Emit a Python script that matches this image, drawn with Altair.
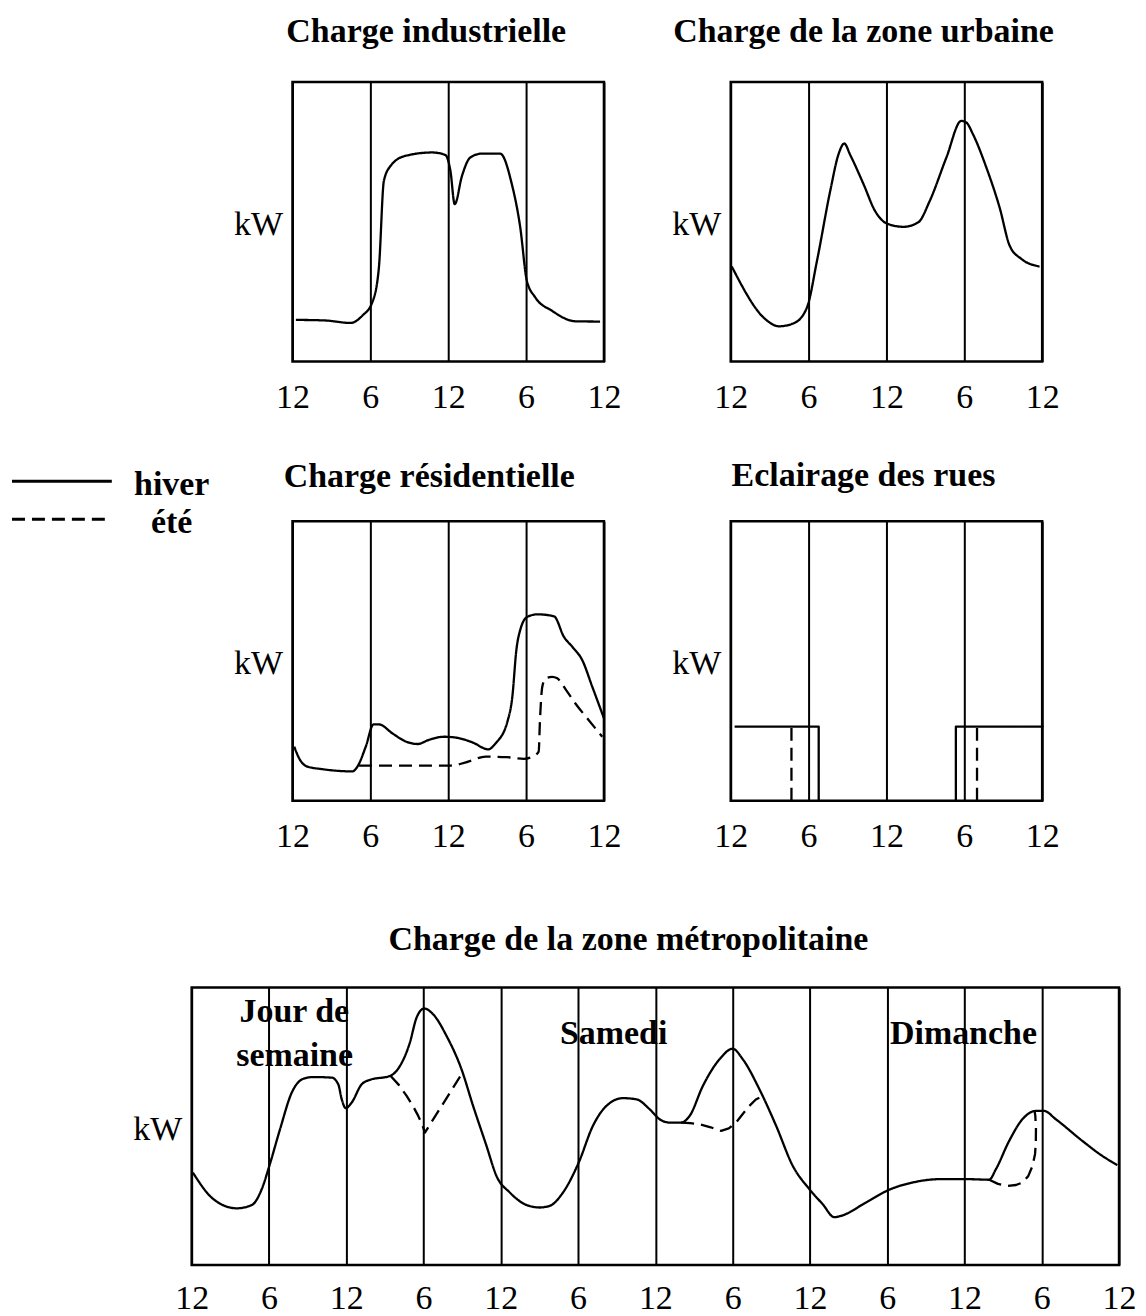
import altair as alt
import pandas as pd

FONT = "Liberation Serif"
SERIES = ["hiver", "été"]
DASHES = [[1, 0], [13, 7]]
DAY_TICKS = [0, 6, 12, 18, 24]
WEEK_TICKS = list(range(0, 73, 6))

# Charge industrielle (hiver)
ind_h = [0.26, 2.5, 4.48, 5.38, 6.15, 6.66, 7.04, 7.56, 8.71, 10.76, 11.78, 12.17, 12.5, 13.06, 13.7,
         14.6, 16.0, 16.9, 17.55, 18.06, 18.7, 19.98, 21.8, 23.7]
ind_v = [14.9, 14.7, 13.8, 16.4, 21.2, 33.7, 64.6, 70.0, 73.6, 74.8, 73.9, 68.2, 56.3, 66.4, 73.0,
         74.4, 74.4, 63.5, 48.0, 28.9, 23.0, 18.2, 14.4, 14.3]

# Charge de la zone urbaine (hiver)
urb_h = [0.08, 2.81, 3.71, 4.86, 5.88, 6.65, 7.67, 8.31, 8.75, 9.21, 10.23, 11.12, 12.02, 13.3,
         14.45, 15.34, 16.62, 17.77, 18.16, 18.67, 19.7, 20.72, 21.5, 22.4, 23.8]
urb_v = [34.0, 14.6, 12.6, 13.7, 19.4, 36.1, 61.1, 74.2, 78.0, 73.9, 63.5, 53.9, 49.4, 48.2,
         49.8, 57.5, 73.0, 86.1, 85.5, 81.3, 69.4, 55.1, 41.4, 36.7, 34.0]

# Charge résidentielle
res_w_h = [0.13, 0.51, 1.16, 2.31, 4.62, 5.0, 5.65, 6.24, 6.67, 7.7, 8.73, 9.63, 10.52, 11.68, 12.58,
           13.86, 15.09, 15.66, 16.56, 16.94, 17.25, 17.58, 18.1, 18.87, 20.15, 20.92, 21.56, 22.33,
           23.1, 24.0]
res_w_v = [19.4, 15.2, 12.2, 11.3, 10.5, 12.2, 19.4, 27.3, 27.3, 24.1, 21.2, 20.3, 21.8, 22.9, 22.6,
           20.9, 18.4, 20.6, 28.3, 37.2, 53.9, 61.6, 65.8, 66.7, 66.0, 58.6, 55.1, 50.3,
           40.8, 29.5]
res_s_h = [5.13, 6.24, 9.0, 12.19, 13.35, 14.89, 16.5, 17.84, 18.5, 18.97, 19.07, 19.25, 19.5, 20.0,
           20.4, 21.1, 21.8, 22.8, 23.87]
res_s_v = [12.6, 12.6, 12.6, 12.6, 13.7, 15.8, 15.6, 15.0, 15.8, 17.6, 28.9, 40.8, 43.8, 44.3,
           43.8, 39.5, 34.8, 29.0, 22.9]

# Eclairage des rues
light_h = [0.3, 6.78, 6.78, 17.35, 17.35, 24.1, 4.68, 4.68, 18.98, 18.98]
light_v = [26.5, 26.5, 0, 0, 26.5, 26.5, 0, 26.5, 0, 26.5]
light_serie = ["hiver"] * 6 + ["été"] * 4
light_seg = [0, 0, 0, 1, 1, 1, 2, 2, 3, 3]

# Charge de la zone métropolitaine (3 jours)
met_w_h = [0.09, 1.69, 3.5, 4.67, 5.44, 6.03, 6.86, 7.77, 8.67, 9.45, 10.87, 11.38, 11.65, 11.96,
           12.42, 13.2, 13.84, 15.39, 16.17, 16.94, 17.46, 18.05, 18.75, 19.79, 20.95, 21.85, 22.89,
           23.66, 24.7, 26.0, 27.0, 27.8, 28.83, 30.05, 31.15, 32.2, 33.48, 34.52, 35.56, 36.33,
           37.1, 38.0, 38.66, 39.69, 40.98, 42.0, 42.79, 44.08, 45.38, 46.67, 47.96, 48.99, 49.9,
           50.42, 52.36, 54.16, 55.97, 58.04, 60.37, 61.92, 62.44, 63.47, 64.5, 65.54, 66.18,
           67.09, 69.15, 70.7, 71.87]
met_w_v = [33.3, 23.7, 20.4, 21.6, 27.3, 35.7, 48.9, 62.1, 67.1, 67.7, 67.5, 65.1, 59.7, 56.5,
           58.5, 65.1, 66.7, 68.1, 71.7, 80.1, 89.1, 92.4, 90.3, 82.5, 70.5, 57.3, 42.9,
           32.1, 26.1, 21.6, 20.7, 21.3, 26.1, 36.9, 50.1, 57.3, 60.1, 59.7, 56.1, 52.5,
           51.3, 51.3, 53.7, 64.5, 74.1, 77.9, 74.1, 63.3, 50.1, 35.7, 27.3, 21.9, 17.2,
           17.7, 22.5, 27.1, 29.7, 30.9, 30.9, 30.7, 34.5, 44.7, 52.5, 55.5, 55.5,
           52.5, 44.7, 39.3, 36.0]
met_s_h = [15.45, 16.1, 16.69, 17.2, 17.59, 17.9, 18.11, 21.03,
           38.0, 38.7, 39.44, 40.3, 41.1, 41.7, 42.26, 42.8, 43.3, 43.8, 44.33,
           61.92, 62.6, 63.34, 64.0, 64.5, 64.95, 65.28, 65.48, 65.54, 65.55, 65.5, 65.45]
met_s_v = [68.1, 64.8, 60.9, 57.1, 53.7, 50.6, 47.7, 69.3,
           51.3, 51.1, 50.7, 49.6, 48.3, 49.2, 51.3, 54.5, 57.3, 59.6, 60.9,
           30.7, 29.2, 28.5, 28.8, 29.7, 32.0, 35.7, 40.0, 44.1, 49.0, 53.7, 55.3]
met_s_seg = [0] * 8 + [1] * 11 + [2] * 12

ann_text = ["Jour de", "semaine", "Samedi", "Dimanche"]
ann_h = [7.97, 7.99, 32.76, 59.92]
ann_v = [87.4, 71.7, 79.5, 79.5]

TITLES = ["Charge industrielle", "Charge de la zone urbaine", "Charge résidentielle",
          "Eclairage des rues", "Charge de la zone métropolitaine"]


def frame(hs, vs, serie, seg=None):
    n = len(hs)
    return pd.DataFrame({
        "h": hs, "v": vs,
        "série": serie if isinstance(serie, list) else [serie] * n,
        "seg": seg if seg is not None else [0] * n,
        "pt": list(range(n)),
    })


def x_enc(xmax, ticks, pad=36):
    return alt.X("h:Q", scale=alt.Scale(domain=[0, xmax], nice=False, zero=False),
                 axis=alt.Axis(values=ticks, labelExpr="datum.value % 12 == 0 ? '12' : '6'",
                               labelFont=FONT, labelFontSize=34, labelColor="black",
                               labelBaseline="middle", labelAlign="center", labelPadding=pad,
                               labelFlush=False, labelOverlap=False, ticks=False, tickSize=0,
                               domain=False, grid=True, gridColor="black", gridWidth=2,
                               gridOpacity=1, title=None))


def y_enc(height):
    return alt.Y("v:Q", scale=alt.Scale(domain=[0, 100], nice=False, zero=False),
                 axis=alt.Axis(domain=False, ticks=False, labels=False, grid=False,
                               title="kW", titleAngle=0, titleFont=FONT, titleFontSize=34,
                               titleFontWeight="normal", titleColor="black", titleAlign="right",
                               titleBaseline="middle", titleX=-10, titleY=height / 2 + 3))


dash = alt.StrokeDash("série:N", scale=alt.Scale(domain=SERIES, range=DASHES), legend=None)


def curve(df, xmax, ticks, height, interp, pad=36):
    return alt.Chart(df).mark_line(color="black", strokeWidth=2.3, interpolate=interp,
                                   strokeJoin="round").encode(
        x=x_enc(xmax, ticks, pad), y=y_enc(height), strokeDash=dash,
        detail="seg:N", order="pt:Q")


def panel(layers, title, width, height, offset, dx):
    return alt.layer(*layers).properties(
        width=width, height=height,
        title=alt.TitleParams(title, font=FONT, fontSize=34, fontWeight="bold", color="black",
                              anchor="middle", baseline="alphabetic", offset=offset, dx=dx),
        view=alt.ViewBackground(stroke="black", strokeWidth=2.5))


def extent_rule(top, bottom):
    # invisible rule fixing the layout extent of a row
    return alt.Chart(pd.DataFrame({"a": [0]})).mark_rule(strokeOpacity=0, strokeWidth=0).encode(
        x=alt.value(-2), x2=alt.value(1), y=alt.value(top), y2=alt.value(bottom))


def spacer(w, h, top, bottom):
    return extent_rule(top, bottom).properties(
        width=w, height=h, view=alt.ViewBackground(strokeOpacity=0))


W, H, HB, WB = 312, 280, 278, 929
TOP = -73

p1 = panel([curve(frame(ind_h, ind_v, "hiver"), 24, DAY_TICKS, H, "monotone")],
           TITLES[0], W, H, 6, -22)
p2 = panel([curve(frame(urb_h, urb_v, "hiver"), 24, DAY_TICKS, H, "monotone")],
           TITLES[1], W, H, 6, -23)
p3 = panel([curve(frame(res_w_h, res_w_v, "hiver"), 24, DAY_TICKS, H, "monotone"),
            curve(frame(res_s_h, res_s_v, "été"), 24, DAY_TICKS, H, "monotone")],
           TITLES[2], W, H, 0, -19)
p4 = panel([curve(frame(light_h, light_v, light_serie, light_seg), 24, DAY_TICKS, H, "linear")],
           TITLES[3], W, H, 1.5, -23)

ann_df = pd.DataFrame({"t": ann_text, "h": ann_h, "v": ann_v})
ann = alt.Chart(ann_df).mark_text(font=FONT, fontSize=34, fontWeight="bold", color="black",
                                  align="center", baseline="alphabetic").encode(
    x=x_enc(72, WEEK_TICKS, 34), y=y_enc(HB), text="t:N")
p5 = panel([curve(frame(met_w_h, met_w_v, "hiver"), 72, WEEK_TICKS, HB, "monotone", 34),
            curve(frame(met_s_h, met_s_v, "été", met_s_seg), 72, WEEK_TICKS, HB, "linear", 34),
            ann],
           TITLES[4], WB, HB, 3.5, -27)

leg_df = pd.DataFrame({"série": SERIES})
leg_y = alt.Y("série:N", scale=alt.Scale(type="point", domain=SERIES, range=[-40, -2], padding=0),
              axis=None)
leg_line = alt.Chart(leg_df).mark_rule(color="black", strokeWidth=3).encode(
    x=alt.value(0), x2=alt.value(100), y=leg_y, strokeDash=dash)
leg_txt = alt.Chart(leg_df).mark_text(font=FONT, fontSize=34, fontWeight="bold", color="black",
                                      align="center", baseline="alphabetic", dy=13.5).encode(
    x=alt.value(160), y=leg_y, text="série:N")
legend_cell = alt.layer(extent_rule(TOP, H + 82), leg_line, leg_txt).properties(
    width=154, height=H, view=alt.ViewBackground(strokeOpacity=0))

row1 = alt.hconcat(spacer(154, H, TOP, H + 55), p1, p2, spacing=127, bounds="flush")
row2 = alt.hconcat(legend_cell, p3, p4, spacing=127, bounds="flush")
row3 = alt.hconcat(spacer(52.5, HB, TOP, HB + 48), p5, spacing=127, bounds="flush")

chart = alt.vconcat(row1, row2, row3, spacing=32).properties(
    padding={"left": 2, "top": 0, "right": 0, "bottom": 0}
).configure_view(stroke="black", strokeWidth=2.5).configure(background="white")

chart.save("out.html", embed_options={"renderer": "svg", "actions": False})
